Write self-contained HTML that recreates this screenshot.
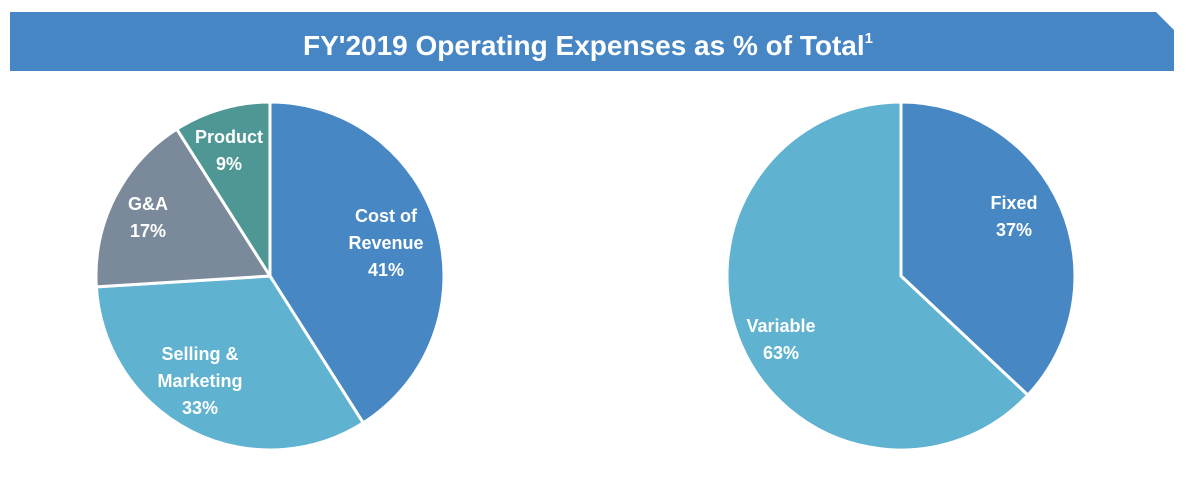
<!DOCTYPE html>
<html><head><meta charset="utf-8"><style>
html,body{margin:0;padding:0;background:#fff;width:1186px;height:488px;overflow:hidden}
svg text{font-family:"Liberation Sans",sans-serif;font-weight:bold;fill:#fff}
</style></head><body>
<svg width="1186" height="488">
<polygon points="10,12 1156,12 1174,30 1174,71 10,71" fill="#4686c4"/>
<text x="588" y="55" text-anchor="middle" font-size="28">FY'2019 Operating Expenses as % of Total<tspan font-size="15" dy="-12">1</tspan></text>
<g id="pies"></g>
</svg>
<script>
const leftCategories=["Cost of Revenue","Selling & Marketing","G&A","Product"];
const leftValues=[41,33,17,9];
const rightCategories=["Fixed","Variable"];
const rightValues=[37,63];
const leftColors=["#4787c4","#5fb2d0","#7b8a9b","#4f9794"];
const rightColors=["#4787c4","#5fb2d0"];
const leftLabels=[[[386,216,"Cost of"],[386,243,"Revenue"],[386,270,"41%"]],[[200,354,"Selling &"],[200,381,"Marketing"],[200,408,"33%"]],[[148,204,"G&A"],[148,231,"17%"]],[[229,137,"Product"],[229,164,"9%"]]];
const rightLabels=[[[1014,203,"Fixed"],[1014,230,"37%"]],[[781,326,"Variable"],[781,353,"63%"]]];
const NS="http://www.w3.org/2000/svg";
const g=document.getElementById('pies');
function pie(cx,cy,r,cats,vals,cols,labels,prefix){
  const total=vals.reduce((a,b)=>a+b,0);
  let a0=0;
  vals.forEach((v,i)=>{
    const a1=a0+v/total*2*Math.PI;
    const x0=cx+r*Math.sin(a0),y0=cy-r*Math.cos(a0),x1=cx+r*Math.sin(a1),y1=cy-r*Math.cos(a1);
    const p=document.createElementNS(NS,'path');
    p.setAttribute('d',`M${cx},${cy}L${x0},${y0}A${r},${r} 0 ${a1-a0>Math.PI?1:0} 1 ${x1},${y1}Z`);
    p.setAttribute('fill',cols[i]);p.setAttribute('stroke','#fff');p.setAttribute('stroke-width','3');
    
    
    g.appendChild(p);
    labels[i].forEach(l=>{
      const t=document.createElementNS(NS,'text');
      t.setAttribute('x',l[0]);t.setAttribute('y',l[1]+6);t.setAttribute('text-anchor','middle');t.setAttribute('font-size','18');
      t.textContent=l[2];
      
      
      g.appendChild(t);
    });
    a0=a1;
  });
}
pie(270,276,174,leftCategories,leftValues,leftColors,leftLabels,'left-pie');
pie(901,276,174,rightCategories,rightValues,rightColors,rightLabels,'right-pie');
</script>
</body></html>
